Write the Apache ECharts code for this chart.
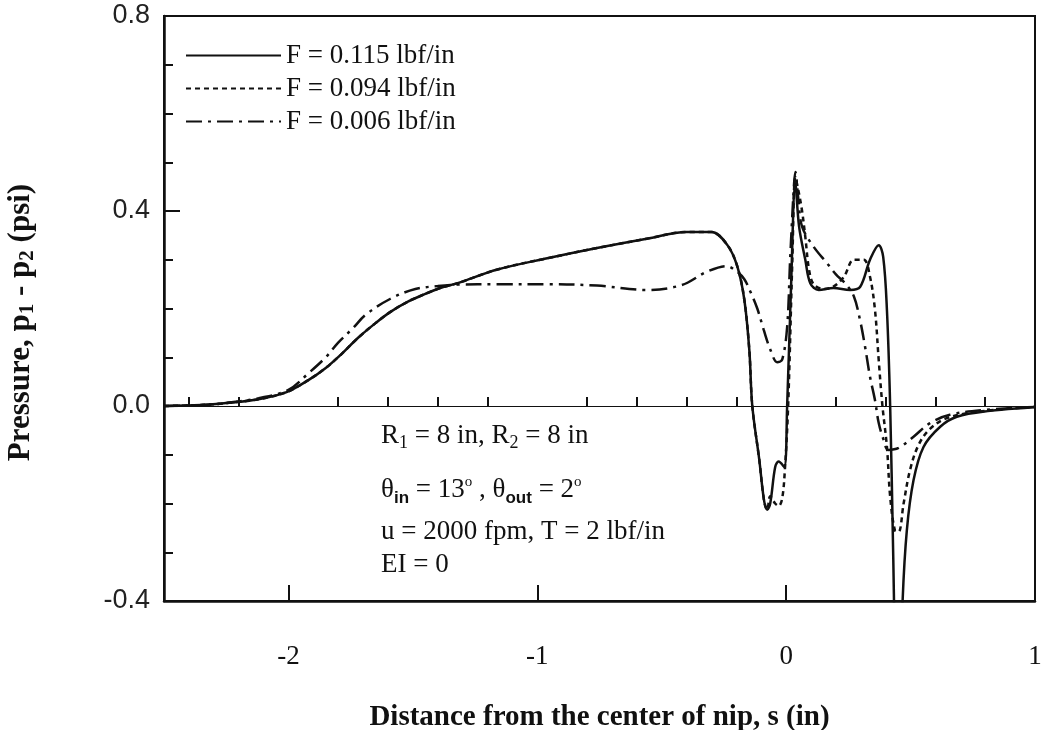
<!DOCTYPE html>
<html>
<head>
<meta charset="utf-8">
<script src="https://cdn.jsdelivr.net/npm/echarts@6/dist/echarts.min.js"></script>
<style>
  html, body { margin: 0; padding: 0; background: #fff; }
  #chart { width: 1041px; height: 730px; }
</style>
</head>
<body>
<div id="chart"></div>
<script>
// F = 0.115 lbf/in
var sSolid = [-2.5, -2.35, -2.25, -2.12, -2.01, -1.92, -1.85, -1.79, -1.72, -1.65, -1.59, -1.52, -1.45, -1.39, -1.32, -1.16, -0.96, -0.76, -0.56, -0.40, -0.30, -0.236, -0.196, -0.168, -0.148, -0.136, -0.108, -0.089, -0.076, -0.064, -0.044, -0.03, -0.008, 0.004, 0.02, 0.037, 0.052, 0.077, 0.097, 0.131, 0.19, 0.257, 0.297, 0.337, 0.372, 0.39, 0.405, 0.418, 0.43, 0.44, 0.452, 0.462, 0.468, 0.485, 0.512, 0.552, 0.618, 0.686, 0.82, 0.98, 1.0];
var pSolid = [0, 0.002, 0.006, 0.014, 0.028, 0.053, 0.078, 0.105, 0.14, 0.17, 0.193, 0.214, 0.23, 0.242, 0.252, 0.28, 0.303, 0.324, 0.343, 0.357, 0.357, 0.33, 0.286, 0.218, 0.115, 0, -0.11, -0.193, -0.213, -0.2, -0.125, -0.114, -0.125, 0, 0.25, 0.457, 0.368, 0.3, 0.252, 0.238, 0.242, 0.238, 0.244, 0.3, 0.33, 0.306, 0.197, 0, -0.3, -0.55, -0.65, -0.55, -0.4, -0.255, -0.152, -0.084, -0.043, -0.022, -0.01, -0.003, -0.002];

// F = 0.094 lbf/in
var sDot = [-2.5, -2.35, -2.25, -2.12, -2.01, -1.92, -1.85, -1.79, -1.72, -1.65, -1.59, -1.52, -1.45, -1.39, -1.32, -1.16, -0.96, -0.76, -0.56, -0.40, -0.30, -0.236, -0.196, -0.168, -0.148, -0.136, -0.108, -0.089, -0.076, -0.064, -0.044, -0.03, -0.016, -0.005, 0.008, 0.025, 0.037, 0.05, 0.064, 0.077, 0.092, 0.11, 0.15, 0.19, 0.232, 0.272, 0.312, 0.337, 0.357, 0.372, 0.387, 0.405, 0.418, 0.437, 0.452, 0.472, 0.498, 0.532, 0.578, 0.65, 0.8, 1.0];
var pDot = [0, 0.002, 0.006, 0.014, 0.028, 0.053, 0.078, 0.105, 0.14, 0.17, 0.193, 0.214, 0.23, 0.242, 0.252, 0.28, 0.303, 0.324, 0.343, 0.357, 0.357, 0.33, 0.286, 0.218, 0.115, 0, -0.11, -0.193, -0.213, -0.185, -0.2, -0.205, -0.19, -0.13, 0, 0.3, 0.47, 0.44, 0.4, 0.347, 0.28, 0.25, 0.24, 0.245, 0.265, 0.3, 0.3, 0.265, 0.197, 0.094, 0, -0.084, -0.186, -0.255, -0.258, -0.2, -0.131, -0.08, -0.047, -0.024, -0.01, -0.002];

// F = 0.006 lbf/in
var sDash = [-2.5, -2.35, -2.25, -2.12, -2.0, -1.92, -1.85, -1.80, -1.74, -1.69, -1.59, -1.49, -1.40, -1.32, -1.16, -0.96, -0.76, -0.56, -0.42, -0.32, -0.24, -0.196, -0.168, -0.144, -0.116, -0.09, -0.063, -0.036, -0.016, 0.004, 0.016, 0.03, 0.037, 0.05, 0.064, 0.11, 0.164, 0.2, 0.24, 0.272, 0.297, 0.317, 0.337, 0.357, 0.372, 0.392, 0.41, 0.452, 0.512, 0.578, 0.658, 0.8, 1.0];
var pDash = [0, 0.002, 0.006, 0.016, 0.033, 0.067, 0.1, 0.13, 0.16, 0.187, 0.22, 0.24, 0.246, 0.249, 0.25, 0.25, 0.247, 0.238, 0.248, 0.275, 0.287, 0.275, 0.26, 0.235, 0.2, 0.156, 0.115, 0.09, 0.095, 0.162, 0.3, 0.44, 0.48, 0.42, 0.368, 0.327, 0.293, 0.27, 0.25, 0.225, 0.176, 0.122, 0.06, 0.012, -0.035, -0.07, -0.09, -0.086, -0.063, -0.035, -0.018, -0.008, -0.002];

var xLabelTicks = [-2, -1, 0, 1];
var xMinorTicks = [-2.4, -2.2, -1.8, -1.6, -1.4, -1.2, -0.8, -0.6, -0.4, -0.2, 0.2, 0.4, 0.6, 0.8];
var seriesNames = ['F = 0.115 lbf/in', 'F = 0.094 lbf/in', 'F = 0.006 lbf/in'];

function pairs(xs, ys) {
  return xs.map(function (x, i) { return [x, ys[i]]; });
}

var serif = '"Liberation Serif", "DejaVu Serif", serif';
var sans = '"Liberation Sans", Arial, sans-serif';

var chart = echarts.init(document.getElementById('chart'));
chart.setOption({
  animation: false,
  backgroundColor: '#fff',
  grid: {
    left: 164, right: 6, top: 16, bottom: 129,
    outerBoundsMode: 'none',
    show: true, borderColor: '#111', borderWidth: 2, backgroundColor: 'transparent'
  },
  legend: {
    orient: 'vertical',
    left: 180, top: 37,
    itemWidth: 95, itemHeight: 14, itemGap: 6,
    itemStyle: { opacity: 0 },
    textStyle: { fontFamily: serif, fontSize: 27, color: '#111' },
    data: seriesNames
  },
  xAxis: [{
    type: 'value', min: -2.5, max: 1,
    axisLine: { show: true, onZero: false, lineStyle: { color: '#111', width: 2.5 } },
    axisTick: { show: true, inside: true, length: 16, customValues: xLabelTicks, lineStyle: { color: '#111', width: 2 } },
    axisLabel: { customValues: xLabelTicks, margin: 42, fontFamily: serif, fontSize: 27, color: '#111' },
    splitLine: { show: false },
    name: 'Distance from the center of nip, s (in)',
    nameLocation: 'middle', nameGap: 102,
    nameTextStyle: { fontFamily: serif, fontWeight: 'bold', fontSize: 29, color: '#111' }
  }, {
    type: 'value', min: -2.5, max: 1, position: 'bottom',
    axisLine: { show: false },
    axisTick: { show: true, inside: true, length: 9, customValues: xMinorTicks, lineStyle: { color: '#111', width: 2 } },
    axisLabel: { show: false },
    splitLine: { show: false }
  }],
  yAxis: {
    type: 'value', min: -0.4, max: 0.8, interval: 0.4,
    axisLine: { show: true, onZero: false, lineStyle: { color: '#111', width: 2.5 } },
    axisTick: { show: true, inside: true, length: 16, lineStyle: { color: '#111', width: 2 } },
    minorTick: { show: true, splitNumber: 4, length: 9, lineStyle: { color: '#111', width: 2 } },
    axisLabel: {
      margin: 14, fontFamily: sans, fontSize: 27, color: '#222',
      formatter: function (v) { return v.toFixed(1); }
    },
    splitLine: { show: false },
    name: 'Pressure, p{sub|1} - p{sub|2} (psi)',
    nameLocation: 'middle', nameGap: 126,
    nameTextStyle: {
      fontFamily: serif, fontWeight: 'bold', fontSize: 31, color: '#111',
      padding: [0, 28, 0, 0],
      rich: { sub: { fontFamily: serif, fontWeight: 'bold', fontSize: 21, color: '#111', padding: [14, 0, 0, 0] } }
    }
  },
  series: [{
    name: seriesNames[0], type: 'line', data: pairs(sSolid, pSolid),
    symbol: 'none', smooth: 0.35, clip: true,
    lineStyle: { color: '#111', width: 2.5, type: 'solid' },
    itemStyle: { color: '#111' },
    markLine: {
      silent: true, symbol: 'none', label: { show: false },
      lineStyle: { color: '#111', width: 1.2, type: 'solid' },
      data: [{ yAxis: 0 }]
    }
  }, {
    name: seriesNames[1], type: 'line', data: pairs(sDot, pDot),
    symbol: 'none', smooth: 0.35, clip: true,
    lineStyle: { color: '#111', width: 2.5, type: [5, 4] },
    itemStyle: { color: '#111' }
  }, {
    name: seriesNames[2], type: 'line', data: pairs(sDash, pDash),
    symbol: 'none', smooth: 0.35, clip: true,
    lineStyle: { color: '#111', width: 2.5, type: [16, 6, 3, 6] },
    itemStyle: { color: '#111' }
  }],
  graphic: [{
    type: 'text', left: 381, top: 422,
    style: {
      text: 'R{sub|1} = 8 in, R{sub|2} = 8 in',
      fontFamily: serif, fontSize: 27, fill: '#111',
      rich: { sub: { fontFamily: serif, fontSize: 18, padding: [15, 0, 0, 0] } }
    }
  }, {
    type: 'text', left: 381, top: 475,
    style: {
      text: 'θ{sub|in} = 13{sup|o} , θ{sub|out} = 2{sup|o}',
      fontFamily: serif, fontSize: 27, fill: '#111',
      rich: {
        sub: { fontFamily: sans, fontWeight: 'bold', fontSize: 17, padding: [17, 0, 0, 0] },
        sup: { fontFamily: serif, fontSize: 15, padding: [0, 0, 15, 0] }
      }
    }
  }, {
    type: 'text', left: 381, top: 518,
    style: { text: 'u = 2000 fpm, T = 2 lbf/in', fontFamily: serif, fontSize: 27, fill: '#111' }
  }, {
    type: 'text', left: 381, top: 551,
    style: { text: 'EI = 0', fontFamily: serif, fontSize: 27, fill: '#111' }
  }]
});
</script>
</body>
</html>
